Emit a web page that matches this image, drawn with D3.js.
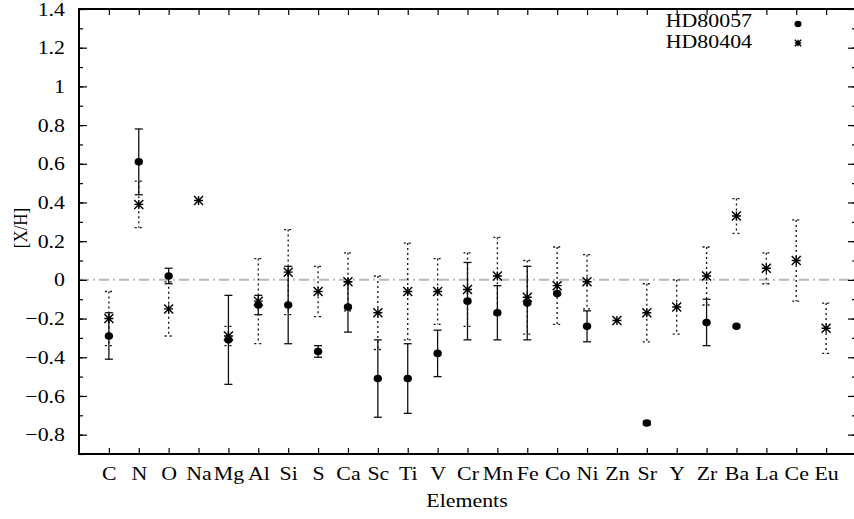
<!DOCTYPE html>
<html>
<head>
<meta charset="utf-8">
<script src="https://cdn.jsdelivr.net/npm/d3@7"></script>
<style>
body{margin:0;background:#fff;}
text{font-family:"Liberation Serif","DejaVu Serif",serif;fill:#000;}
</style>
</head>
<body>
<div id="my_dataviz"></div>
<script>
// element names along the x axis
var elements = ["C","N","O","Na","Mg","Al","Si","S","Ca","Sc","Ti","V","Cr","Mn","Fe","Co","Ni","Zn","Sr","Y","Zr","Ba","La","Ce","Eu"];
// HD80057 abundances and errors (null = not measured)
var hd80057 = [-0.29,0.61,0.02,null,-0.31,-0.13,-0.13,-0.37,-0.14,-0.51,-0.51,-0.38,-0.11,-0.17,-0.12,-0.07,-0.24,null,-0.74,null,-0.22,-0.24,null,null,null];
var hd80057Err = [0.12,0.17,0.04,0,0.23,0.05,0.20,0.03,0.13,0.20,0.18,0.12,0.20,0.14,0.19,0,0.08,0,0.01,0,0.12,0,0,0,0];
// HD80404 abundances and errors
var hd80404 = [-0.20,0.39,-0.15,0.41,-0.29,-0.11,0.04,-0.06,-0.01,-0.17,-0.06,-0.06,-0.05,0.02,-0.09,-0.03,-0.01,-0.21,-0.17,-0.14,0.02,0.33,0.06,0.10,-0.25];
var hd80404Err = [0.14,0.12,0.14,0,0.05,0.22,0.22,0.13,0.15,0.19,0.25,0.17,0.19,0.20,0.19,0.20,0.14,0,0.15,0.14,0.15,0.09,0.08,0.21,0.13];
var yTicks = [-0.8,-0.6,-0.4,-0.2,0,0.2,0.4,0.6,0.8,1,1.2,1.4];
var seriesNames = ["HD80057","HD80404"];

var width = 854, height = 519;
var mLeft = 79, mRight = 856, mTop = 9, mBottom = 454;
var sx = 1.15; // text in the original is stretched sideways a bit
var fs = "19px";

var svg = d3.select("#my_dataviz")
    .append("svg")
    .attr("width", width)
    .attr("height", height);

var x = d3.scaleLinear().domain([0, elements.length + 1]).range([mLeft, mRight]);
var y = d3.scaleLinear().domain([-0.9, 1.4]).range([mBottom, mTop]);

// zero reference line
svg.append("line")
    .attr("x1", mLeft).attr("x2", mRight)
    .attr("y1", y(0)).attr("y2", y(0))
    .attr("stroke", "#b8b8b8")
    .attr("stroke-width", 2)
    .attr("stroke-dasharray", "10,4,2,4");

// axes: ticks drawn inward, gnuplot style
var idx = d3.range(1, elements.length + 1);
var minor = d3.range(-0.9, 1.41, 0.1).map(function(d){return Math.round(d*10)/10;});
function noDomain(g){ g.select(".domain").remove(); }

var xAxis = svg.append("g")
    .attr("transform", "translate(0," + mBottom + ")")
    .call(d3.axisBottom(x).tickValues(idx).tickSize(-6).tickFormat(function(d){return elements[d-1];}).tickPadding(13))
    .call(noDomain);
svg.append("g")
    .attr("transform", "translate(0," + mTop + ")")
    .call(d3.axisTop(x).tickValues(idx).tickSize(-6).tickFormat(""))
    .call(noDomain);
svg.append("g")
    .attr("transform", "translate(" + mLeft + ",0)")
    .call(d3.axisLeft(y).tickValues(minor).tickSize(-4).tickFormat(""))
    .call(noDomain);
var yAxis = svg.append("g")
    .attr("transform", "translate(" + mLeft + ",0)")
    .call(d3.axisLeft(y).tickValues(yTicks).tickSize(-8).tickFormat(d3.format("")))
    .call(noDomain);
svg.append("g")
    .attr("transform", "translate(" + mRight + ",0)")
    .call(d3.axisRight(y).tickValues(minor).tickSize(-4).tickFormat(""))
    .call(noDomain);
svg.append("g")
    .attr("transform", "translate(" + mRight + ",0)")
    .call(d3.axisRight(y).tickValues(yTicks).tickSize(-8).tickFormat(""))
    .call(noDomain);

svg.selectAll(".tick line").attr("stroke", "#000").attr("stroke-width", 1.2);
svg.selectAll(".tick text")
    .style("font-family", '"Liberation Serif",serif')
    .style("font-size", fs)
    .attr("fill", "#000");
xAxis.selectAll(".tick text").attr("transform", "scale(" + sx + ",1)");
yAxis.selectAll(".tick text")
    .attr("x", -14 / sx)
    .attr("transform", "scale(" + sx + ",1)");

// frame
svg.append("rect")
    .attr("x", mLeft).attr("y", mTop)
    .attr("width", mRight - mLeft).attr("height", mBottom - mTop)
    .attr("fill", "none")
    .attr("stroke", "#000")
    .attr("stroke-width", 2);

// error bars
function drawErrors(vals, errs, dash){
    var g = svg.append("g");
    for(var i = 0; i < vals.length; i++){
        if(vals[i] == null || !errs[i]) continue;
        var cx = x(i+1), y1 = y(vals[i]+errs[i]), y2 = y(vals[i]-errs[i]);
        var segs = [[cx,y1,cx,y2],[cx-4,y1,cx+4,y1],[cx-4,y2,cx+4,y2]];
        segs.forEach(function(s){
            g.append("line")
                .attr("x1", s[0]).attr("y1", s[1]).attr("x2", s[2]).attr("y2", s[3])
                .attr("stroke", "#111")
                .attr("stroke-width", 1.3)
                .attr("stroke-dasharray", dash);
        });
    }
}
drawErrors(hd80057, hd80057Err, null);
drawErrors(hd80404, hd80404Err, "2,3");

function drawDot(g, cx, cy, r){
    g.append("ellipse").attr("cx", cx).attr("cy", cy).attr("rx", r).attr("ry", r*0.9).attr("fill", "#000");
}
function drawStar(g, cx, cy, s){
    var d = "M" + (cx-s) + "," + cy + "H" + (cx+s) + "M" + cx + "," + (cy-s) + "V" + (cy+s)
        + "M" + (cx-s) + "," + (cy-s) + "L" + (cx+s) + "," + (cy+s)
        + "M" + (cx-s) + "," + (cy+s) + "L" + (cx+s) + "," + (cy-s);
    g.append("path").attr("d", d).attr("stroke", "#000").attr("stroke-width", 1.4).attr("fill", "none");
}

var pts = svg.append("g");
hd80057.forEach(function(v, i){ if(v != null) drawDot(pts, x(i+1), y(v), 4.2); });
hd80404.forEach(function(v, i){ if(v != null) drawStar(pts, x(i+1), y(v), 4.5); });

// legend
var leg = svg.append("g");
seriesNames.forEach(function(n, i){
    leg.append("text")
        .attr("x", 752 / sx).attr("y", 27 + i * 21)
        .attr("text-anchor", "end")
        .attr("transform", "scale(" + sx + ",1)")
        .style("font-size", fs)
        .text(n);
});
drawDot(leg, 798, 24, 3.5);
drawStar(leg, 798, 43, 3.2);

// axis titles
svg.append("text")
    .attr("x", 467 / sx)
    .attr("y", 507)
    .attr("text-anchor", "middle")
    .attr("transform", "scale(" + sx + ",1)")
    .style("font-size", fs)
    .text("Elements");
svg.append("text")
    .attr("transform", "translate(27,228) scale(" + sx + ",1) rotate(-90)")
    .attr("text-anchor", "middle")
    .style("font-size", "17px")
    .text("[X/H]");
</script>
</body>
</html>
